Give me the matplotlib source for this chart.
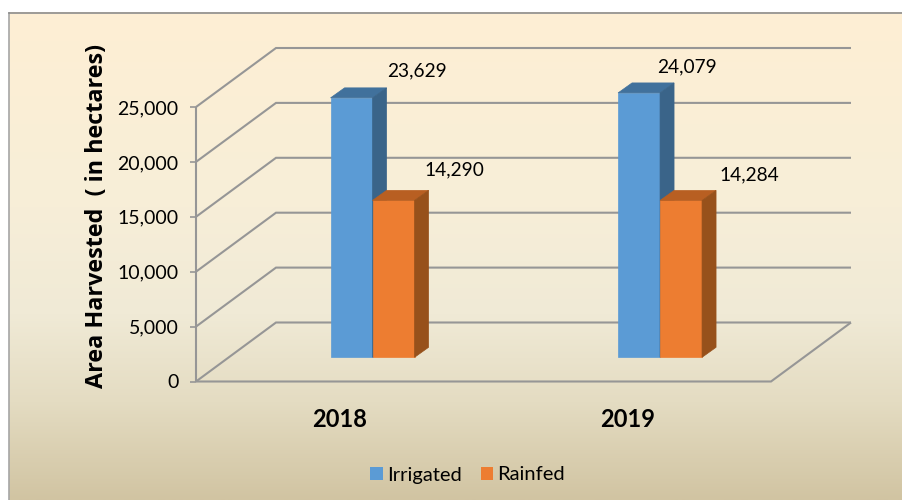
import numpy as np
import matplotlib
matplotlib.use('Agg')
import matplotlib.pyplot as plt
from matplotlib.colors import LinearSegmentedColormap
from matplotlib.patches import Polygon

years = ['2018', '2019']
irrigated = [23629, 24079]
rainfed = [14290, 14284]
y_ticks = [0, 5000, 10000, 15000, 20000, 25000]
y_label = 'Area Harvested  ( in hectares)'
series_names = ['Irrigated', 'Rainfed']

W, H = 902, 500
BLUE, BLUE_TOP, BLUE_SIDE = '#5B9BD5', '#41719C', '#3A6489'
ORANGE, ORANGE_TOP, ORANGE_SIDE = '#ED7D31', '#B85F22', '#97511B'
GRID = '#969696'

plt.rcParams['font.family'] = ['Lato', 'DejaVu Sans']

fig = plt.figure(figsize=(W / 100, H / 100), dpi=100)

# gradient background, white margin above and left of the chart area
bg = fig.add_axes([0, 0, 1, 1], zorder=0)
bg.set_xlim(0, W)
bg.set_ylim(H, 0)
bg.axis('off')
cmap = LinearSegmentedColormap.from_list(
    'bg', [(0, '#FEEFD4'), (0.4, '#F7EED8'), (0.62, '#F0EAD6'), (0.8, '#E4DCC2'), (1, '#D1C4A2')])
bg.imshow(np.linspace(0, 1, 256).reshape(-1, 1), cmap=cmap, aspect='auto',
          extent=[9, W, H, 12.5], zorder=0)
bg.plot([9, 9], [H, 12.5], color='#A6A6A6', lw=1.2, zorder=1)
bg.plot([9, W], [12.5, 12.5], color='#8C8C8C', lw=1.2, zorder=1)

# main axes: front floor edge 196..771 px, value 0 at 381.5 and 25000 at 107 px
left, right, base, top = 196, 771, 381.5, 107
ax = fig.add_axes([left / W, 1 - base / H, (right - left) / W, (base - top) / H], zorder=1)
ax.set_xlim(-0.5, 1.5)
ax.set_ylim(0, 25000)
ax.patch.set_alpha(0)
for s in ax.spines.values():
    s.set_visible(False)

# depth of the box and of the bars, in data units
px_x = 2 / (right - left)
px_y = 25000 / (base - top)
depth_x, depth_y = 80 * px_x, 59 * px_y
bar_w = 42 * px_x
bar_dx, bar_dy = 14 * px_x, 10 * px_y
shift = 0.41

# walls and floor
for v in y_ticks:
    ax.plot([-0.5, -0.5 + depth_x, 1.5 + depth_x],
            [v, v + depth_y, v + depth_y],
            color=GRID, lw=1.5, clip_on=False, zorder=1, solid_joinstyle='miter', solid_capstyle='butt')
ax.plot([-0.5, 1.5, 1.5 + depth_x], [0, 0, depth_y], color=GRID, lw=1.5,
        clip_on=False, zorder=1, solid_joinstyle='miter', solid_capstyle='butt')
ax.plot([-0.5, -0.5], [0, 25000], color=GRID, lw=1.5, clip_on=False, zorder=1, solid_capstyle='butt')

ax.set_xticks([0, 1])
ax.set_xticklabels(years, fontsize=17, fontweight='bold', color='black')
ax.set_yticks(y_ticks)
ax.set_yticklabels(['{:,}'.format(v) for v in y_ticks], fontsize=14, color='black')
ax.tick_params(axis='x', length=0, pad=19)
ax.tick_params(axis='y', length=4.5, width=1.2, color=GRID, pad=8)
ax.set_ylabel(y_label, fontsize=16.8, fontweight='bold', labelpad=6,
              family=['Open Sans', 'DejaVu Sans'], y=0.603)


def draw_bar(x0, val, face, top_c, side_c, z):
    b0 = shift * depth_y
    x1 = x0 + bar_w
    ax.bar(x0, val, width=bar_w, bottom=b0, align='edge', color=face,
           edgecolor=face, lw=0.5, clip_on=False, zorder=z)
    t = b0 + val
    ax.add_patch(Polygon([(x0, t), (x1, t), (x1 + bar_dx, t + bar_dy), (x0 + bar_dx, t + bar_dy)],
                         closed=True, fc=top_c, ec=top_c, lw=0.5, clip_on=False, zorder=z))
    ax.add_patch(Polygon([(x1, b0), (x1 + bar_dx, b0 + bar_dy), (x1 + bar_dx, t + bar_dy), (x1, t)],
                         closed=True, fc=side_c, ec=side_c, lw=0.5, clip_on=False, zorder=z))
    return x0 + bar_w / 2, t


# label offsets from the top middle of each bar, px
offsets = [[(65, 27), (61, 31)], [(48, 26), (68, 26)]]
for i in range(len(years)):
    c = i + shift * depth_x
    x, t = draw_bar(c - bar_w, irrigated[i], BLUE, BLUE_TOP, BLUE_SIDE, 3)
    ax.annotate('{:,}'.format(irrigated[i]), (x, t), xytext=(offsets[i][0][0] * 0.72, offsets[i][0][1] * 0.72),
                textcoords='offset points', ha='center', va='center', fontsize=13.8, zorder=6,
                annotation_clip=False)
    x, t = draw_bar(c, rainfed[i], ORANGE, ORANGE_TOP, ORANGE_SIDE, 4)
    ax.annotate('{:,}'.format(rainfed[i]), (x, t), xytext=(offsets[i][1][0] * 0.72, offsets[i][1][1] * 0.72),
                textcoords='offset points', ha='center', va='center', fontsize=13.8, zorder=6,
                annotation_clip=False)

# legend
handles = [plt.Rectangle((0, 0), 1, 1, fc=BLUE), plt.Rectangle((0, 0), 1, 1, fc=ORANGE)]
fig.legend(handles, series_names, loc='center', bbox_to_anchor=(467.5 / W, 1 - 475 / H), ncol=2,
           frameon=False, fontsize=14.5, handlelength=0.62, handleheight=0.62,
           handletextpad=0.2, columnspacing=0.95, borderpad=0)

fig.savefig('out.png', dpi=100)
